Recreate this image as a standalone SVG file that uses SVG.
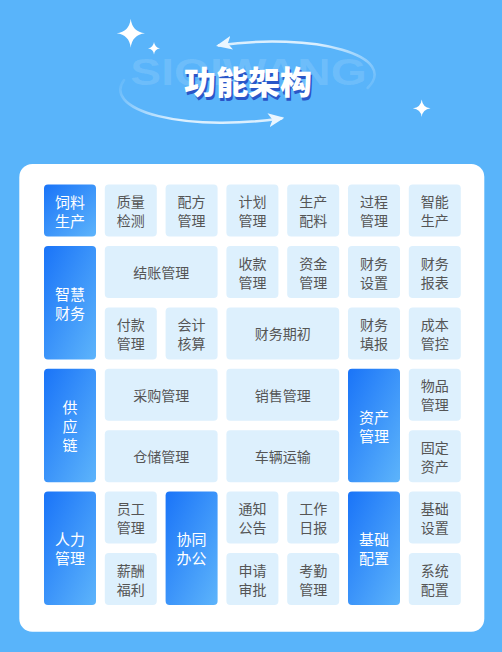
<svg xmlns="http://www.w3.org/2000/svg" width="502" height="652" viewBox="0 0 502 652">
<defs>
<linearGradient id="blueGrad" x1="0" y1="0" x2="1" y2="1">
<stop offset="0" stop-color="#1a74f8"/>
<stop offset="1" stop-color="#5db4fb"/>
</linearGradient>
<linearGradient id="arcTop" gradientUnits="userSpaceOnUse" x1="320" y1="40" x2="372" y2="95">
<stop offset="0" stop-color="#eaf6ff" stop-opacity="0.9"/>
<stop offset="1" stop-color="#eaf6ff" stop-opacity="0.05"/>
</linearGradient>
<linearGradient id="arcBot" gradientUnits="userSpaceOnUse" x1="122" y1="76" x2="175" y2="122">
<stop offset="0" stop-color="#eaf6ff" stop-opacity="0.05"/>
<stop offset="1" stop-color="#eaf6ff" stop-opacity="0.9"/>
</linearGradient>
<marker id="arrowHead" viewBox="0 0 16 14" refX="14" refY="7" markerWidth="16" markerHeight="14" markerUnits="userSpaceOnUse" orient="auto">
<path d="M0,0 L16,7 L0,14 L4,7 Z" fill="#eaf6ff"/>
</marker>
<style>
.lc{fill:#ddf0fd}
.bc{fill:url(#blueGrad)}
.lt{font-family:"Noto Sans CJK SC","Noto Sans",sans-serif;font-size:14px;fill:#555;text-anchor:middle;dominant-baseline:central}
.bt{font-family:"Noto Sans CJK SC","Noto Sans",sans-serif;font-size:15px;fill:#fff;text-anchor:middle;dominant-baseline:central}
.star{fill:#fff}
</style>
</defs>
<rect x="0" y="0" width="502" height="652" fill="#59b4fa"/>

<!-- header decorations -->
<path class="star" d="M130.7,18.8 Q132.2,31.8 145,33.3 Q132.2,34.8 130.7,47.8 Q129.2,34.8 116.7,33.3 Q129.2,31.8 130.7,18.8 Z"/>
<path class="star" d="M154,42 Q154.7,47.6 160,48.3 Q154.7,49 154,54.6 Q153.3,49 148,48.3 Q153.3,47.6 154,42 Z"/>
<path class="star" d="M421.7,99.5 Q422.6,107.4 430.5,108.3 Q422.6,109.2 421.7,117.1 Q420.8,109.2 412.9,108.3 Q420.8,107.4 421.7,99.5 Z"/>
<text transform="translate(248.5,85) scale(1.25,1)" x="0" y="0" font-family="'Liberation Sans',Arial,sans-serif" font-weight="bold" font-size="37" fill="#ffffff" fill-opacity="0.13" text-anchor="middle">SIQIWANG</text>
<path d="M367.7,88 A127,40 -4 0 0 219.5,45.2" fill="none" stroke="url(#arcTop)" stroke-width="2.5" stroke-linecap="round"/>
<path d="M219.5,45.2 L218,45.5" fill="none" stroke="#eaf6ff" stroke-width="2.5" marker-end="url(#arrowHead)"/>
<path d="M124,80 A127,40 -4 0 0 280.5,118.4" fill="none" stroke="url(#arcBot)" stroke-width="2.5" stroke-linecap="round"/>
<path d="M280.5,118.4 L282.4,118.1" fill="none" stroke="#eaf6ff" stroke-width="2.5" marker-end="url(#arrowHead)"/>
<text x="249.5" y="96.5" font-family="'Noto Sans CJK SC',sans-serif" font-weight="900" font-size="32" fill="#2a56c8" text-anchor="middle">功能架构</text>
<text x="248" y="94" font-family="'Noto Sans CJK SC',sans-serif" font-weight="900" font-size="32" fill="#ffffff" text-anchor="middle">功能架构</text>

<!-- card -->
<rect x="19.3" y="164" width="465" height="467.7" rx="13" fill="#ffffff"/>

<!-- blue category nodes -->
<g id="n-feed"><rect class="bc" x="44" y="184.5" width="52" height="52" rx="4"/><text class="bt" x="70" y="201">饲料</text><text class="bt" x="70" y="220">生产</text></g>
<g id="n-finance"><rect class="bc" x="44" y="246" width="52" height="113.4" rx="4"/><text class="bt" x="70" y="293.2">智慧</text><text class="bt" x="70" y="312.2">财务</text></g>
<g id="n-supply"><rect class="bc" x="44" y="368.8" width="52" height="113.4" rx="4"/><text class="bt" x="70" y="406.2">供</text><text class="bt" x="70" y="425.5">应</text><text class="bt" x="70" y="444.8">链</text></g>
<g id="n-hr"><rect class="bc" x="44" y="491.6" width="52" height="113.4" rx="4"/><text class="bt" x="70" y="538.8">人力</text><text class="bt" x="70" y="557.8">管理</text></g>
<g id="n-office"><rect class="bc" x="165.6" y="491.6" width="52" height="113.4" rx="4"/><text class="bt" x="191.6" y="538.8">协同</text><text class="bt" x="191.6" y="557.8">办公</text></g>
<g id="n-asset"><rect class="bc" x="348" y="368.8" width="52" height="113.4" rx="4"/><text class="bt" x="374" y="416">资产</text><text class="bt" x="374" y="435">管理</text></g>
<g id="n-base"><rect class="bc" x="348" y="491.6" width="52" height="113.4" rx="4"/><text class="bt" x="374" y="538.8">基础</text><text class="bt" x="374" y="557.8">配置</text></g>

<!-- row 0 -->
<g id="n-quality"><rect class="lc" x="104.8" y="184.5" width="52" height="52" rx="4"/><text class="lt" x="130.8" y="201">质量</text><text class="lt" x="130.8" y="220">检测</text></g>
<g id="n-formula"><rect class="lc" x="165.6" y="184.5" width="52" height="52" rx="4"/><text class="lt" x="191.6" y="201">配方</text><text class="lt" x="191.6" y="220">管理</text></g>
<g id="n-plan"><rect class="lc" x="226.4" y="184.5" width="52" height="52" rx="4"/><text class="lt" x="252.4" y="201">计划</text><text class="lt" x="252.4" y="220">管理</text></g>
<g id="n-batching"><rect class="lc" x="287.2" y="184.5" width="52" height="52" rx="4"/><text class="lt" x="313.2" y="201">生产</text><text class="lt" x="313.2" y="220">配料</text></g>
<g id="n-process"><rect class="lc" x="348" y="184.5" width="52" height="52" rx="4"/><text class="lt" x="374" y="201">过程</text><text class="lt" x="374" y="220">管理</text></g>
<g id="n-smart"><rect class="lc" x="408.8" y="184.5" width="52" height="52" rx="4"/><text class="lt" x="434.8" y="201">智能</text><text class="lt" x="434.8" y="220">生产</text></g>

<!-- row 1 -->
<g id="n-settle"><rect class="lc" x="104.8" y="246" width="112.8" height="52" rx="4"/><text class="lt" x="161.2" y="272">结账管理</text></g>
<g id="n-receipt"><rect class="lc" x="226.4" y="246" width="52" height="52" rx="4"/><text class="lt" x="252.4" y="262.5">收款</text><text class="lt" x="252.4" y="281.5">管理</text></g>
<g id="n-fund"><rect class="lc" x="287.2" y="246" width="52" height="52" rx="4"/><text class="lt" x="313.2" y="262.5">资金</text><text class="lt" x="313.2" y="281.5">管理</text></g>
<g id="n-finset"><rect class="lc" x="348" y="246" width="52" height="52" rx="4"/><text class="lt" x="374" y="262.5">财务</text><text class="lt" x="374" y="281.5">设置</text></g>
<g id="n-report"><rect class="lc" x="408.8" y="246" width="52" height="52" rx="4"/><text class="lt" x="434.8" y="262.5">财务</text><text class="lt" x="434.8" y="281.5">报表</text></g>

<!-- row 2 -->
<g id="n-payment"><rect class="lc" x="104.8" y="307.4" width="52" height="52" rx="4"/><text class="lt" x="130.8" y="323.9">付款</text><text class="lt" x="130.8" y="342.9">管理</text></g>
<g id="n-account"><rect class="lc" x="165.6" y="307.4" width="52" height="52" rx="4"/><text class="lt" x="191.6" y="323.9">会计</text><text class="lt" x="191.6" y="342.9">核算</text></g>
<g id="n-opening"><rect class="lc" x="226.4" y="307.4" width="112.8" height="52" rx="4"/><text class="lt" x="282.8" y="333.4">财务期初</text></g>
<g id="n-fill"><rect class="lc" x="348" y="307.4" width="52" height="52" rx="4"/><text class="lt" x="374" y="323.9">财务</text><text class="lt" x="374" y="342.9">填报</text></g>
<g id="n-cost"><rect class="lc" x="408.8" y="307.4" width="52" height="52" rx="4"/><text class="lt" x="434.8" y="323.9">成本</text><text class="lt" x="434.8" y="342.9">管控</text></g>

<!-- row 3 -->
<g id="n-purchase"><rect class="lc" x="104.8" y="368.8" width="112.8" height="52" rx="4"/><text class="lt" x="161.2" y="394.8">采购管理</text></g>
<g id="n-sales"><rect class="lc" x="226.4" y="368.8" width="112.8" height="52" rx="4"/><text class="lt" x="282.8" y="394.8">销售管理</text></g>
<g id="n-goods"><rect class="lc" x="408.8" y="368.8" width="52" height="52" rx="4"/><text class="lt" x="434.8" y="385.3">物品</text><text class="lt" x="434.8" y="404.3">管理</text></g>

<!-- row 4 -->
<g id="n-warehouse"><rect class="lc" x="104.8" y="430.2" width="112.8" height="52" rx="4"/><text class="lt" x="161.2" y="456.2">仓储管理</text></g>
<g id="n-vehicle"><rect class="lc" x="226.4" y="430.2" width="112.8" height="52" rx="4"/><text class="lt" x="282.8" y="456.2">车辆运输</text></g>
<g id="n-fixed"><rect class="lc" x="408.8" y="430.2" width="52" height="52" rx="4"/><text class="lt" x="434.8" y="446.7">固定</text><text class="lt" x="434.8" y="465.7">资产</text></g>

<!-- row 5 -->
<g id="n-staff"><rect class="lc" x="104.8" y="491.6" width="52" height="52" rx="4"/><text class="lt" x="130.8" y="508.1">员工</text><text class="lt" x="130.8" y="527.1">管理</text></g>
<g id="n-notice"><rect class="lc" x="226.4" y="491.6" width="52" height="52" rx="4"/><text class="lt" x="252.4" y="508.1">通知</text><text class="lt" x="252.4" y="527.1">公告</text></g>
<g id="n-daily"><rect class="lc" x="287.2" y="491.6" width="52" height="52" rx="4"/><text class="lt" x="313.2" y="508.1">工作</text><text class="lt" x="313.2" y="527.1">日报</text></g>
<g id="n-basic"><rect class="lc" x="408.8" y="491.6" width="52" height="52" rx="4"/><text class="lt" x="434.8" y="508.1">基础</text><text class="lt" x="434.8" y="527.1">设置</text></g>

<!-- row 6 -->
<g id="n-salary"><rect class="lc" x="104.8" y="553" width="52" height="52" rx="4"/><text class="lt" x="130.8" y="569.5">薪酬</text><text class="lt" x="130.8" y="588.5">福利</text></g>
<g id="n-approve"><rect class="lc" x="226.4" y="553" width="52" height="52" rx="4"/><text class="lt" x="252.4" y="569.5">申请</text><text class="lt" x="252.4" y="588.5">审批</text></g>
<g id="n-attend"><rect class="lc" x="287.2" y="553" width="52" height="52" rx="4"/><text class="lt" x="313.2" y="569.5">考勤</text><text class="lt" x="313.2" y="588.5">管理</text></g>
<g id="n-system"><rect class="lc" x="408.8" y="553" width="52" height="52" rx="4"/><text class="lt" x="434.8" y="569.5">系统</text><text class="lt" x="434.8" y="588.5">配置</text></g>

<g id="connectors"></g>
</svg>
